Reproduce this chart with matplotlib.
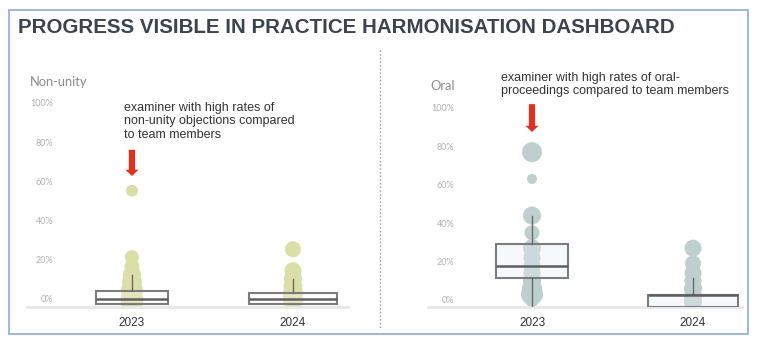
import matplotlib.pyplot as plt
from matplotlib.patches import Rectangle
from matplotlib.lines import Line2D

W, H = 757, 348

# categories
years = ['2023', '2024']

# Non-unity: individual examiners (values in %, dot diameter in px)
nu_2023_vals = [55, 21, 16, 12, 8, 4, 0, -2]
nu_2023_size = [12, 14, 15, 18, 20, 22, 22, 22]
nu_2024_vals = [25, 14, 10, 6, 2, -1]
nu_2024_size = [16, 17, 18, 19, 20, 20]
# Non-unity box stats (q1, median, q3, whisker low, whisker high)
nu_q1 = [-3, -3]
nu_med = [-0.5, -0.7]
nu_q3 = [3.6, 2.4]
nu_lo = [-3, -3]
nu_hi = [12, 10]

# Oral proceedings
or_2023_vals = [77, 63, 44, 35, 27, 22, 18, 14, 10, 6, 3, 0, -2]
or_2023_size = [20, 10, 18, 15, 18, 17, 17, 17, 18, 20, 22, 14, 8]
or_2024_vals = [27, 19, 14, 10, 6, 2, -1]
or_2024_size = [17, 16, 17, 17, 18, 18, 18]
or_q1 = [11.5, -3.5]
or_med = [17.5, 2.6]
or_q3 = [29, 2.6]
or_lo = [-3.6, -3.5]
or_hi = [44, 11.3]

yticks = [0, 20, 40, 60, 80, 100]


def px(x, y):
    # pixel position -> figure fraction
    return x / W, 1 - y / H


def make_ax(x0, x1, ytop, ybot):
    l, b = px(x0, ybot)
    return fig.add_axes([l, b, (x1 - x0) / W, (ybot - ytop) / H])


def draw_panel(ax, vals, sizes, q1, med, q3, lo, hi, dot_col, box_col, widths):
    for i in range(2):
        ax.scatter([i] * len(vals[i]), vals[i], s=[(d * 0.72) ** 2 for d in sizes[i]],
                   color=dot_col, linewidths=0, zorder=2)
    stats = [dict(q1=q1[i], med=med[i], q3=q3[i], whislo=lo[i], whishi=hi[i], fliers=[])
             for i in range(2)]
    ax.bxp(stats, positions=[0, 1], widths=widths, showcaps=False, showfliers=False,
           patch_artist=True, manage_ticks=False, zorder=3,
           boxprops=dict(facecolor=box_col, edgecolor='#7c7c7c', linewidth=1.5),
           medianprops=dict(color='#5f5f5f', linewidth=1.8),
           whiskerprops=dict(color='#6a6a6a', linewidth=1))
    ax.set_xticks([0, 1])
    ax.set_xticklabels(years, fontsize=8.5, color='#333333', family='Liberation Sans')
    ax.set_yticks(yticks)
    ax.set_yticklabels([f'{t}%' for t in yticks], fontsize=6.5, color='#b0b0b0', family='Lato')
    ax.tick_params(axis='x', length=0, pad=7)
    ax.tick_params(axis='y', length=0, pad=-19)
    for s in ['top', 'right', 'left']:
        ax.spines[s].set_visible(False)
    ax.spines['bottom'].set_color('#e8e8e8')
    ax.spines['bottom'].set_linewidth(2)
    ax.set_facecolor('none')


fig = plt.figure(figsize=(W / 100, H / 100), dpi=100)

# outer frame and separator
l, b = px(9, 334)
fig.add_artist(Rectangle((l, b), (748 - 9) / W, (334 - 10) / H, transform=fig.transFigure,
                         fill=False, edgecolor='#8eaadb', linewidth=1.2))
fig.add_artist(Line2D([380 / W, 380 / W], [1 - 50 / H, 1 - 330 / H], transform=fig.transFigure,
                      color='#9a9a9a', linestyle=':', linewidth=1))

fig.text(*px(18, 33), 'PROGRESS VISIBLE IN PRACTICE HARMONISATION DASHBOARD',
         fontsize=14.75, fontweight='bold', color='#3b4350', family='Liberation Sans',
         va='baseline')

# left panel: non-unity
ax1 = make_ax(27, 348, 95, 307)
draw_panel(ax1, [nu_2023_vals, nu_2024_vals], [nu_2023_size, nu_2024_size],
           nu_q1, nu_med, nu_q3, nu_lo, nu_hi, '#dcdea8', (0.98, 0.98, 0.98, 0.3), [0.45, 0.55])
ax1.set_xlim(-0.652, 1.342)
ax1.set_ylim(-4.6, 104.1)
fig.text(*px(30, 82), 'Non-unity', fontsize=9.3, color='#8c8c8c', family='Lato', va='center')
fig.text(*px(124, 102), 'examiner with high rates of\nnon-unity objections compared\nto team members',
         fontsize=9, color='#333333', family='Liberation Sans', va='top', linespacing=1.15)
ax1.annotate('', xy=(0, 62.6), xytext=(0, 76),
             arrowprops=dict(arrowstyle='simple,head_length=4.5,head_width=9.5,tail_width=4.5',
                             mutation_scale=1, color='#e0301e', lw=0, shrinkA=0, shrinkB=0))

# right panel: oral proceedings
ax2 = make_ax(428, 742, 98, 307)
draw_panel(ax2, [or_2023_vals, or_2024_vals], [or_2023_size, or_2024_size],
           or_q1, or_med, or_q3, or_lo, or_hi, '#bfcfcf', (0.91, 0.935, 0.97, 0.35), [0.45, 0.56])
ax2.set_xlim((428 - 532) / 161, (742 - 532) / 161)
ax2.set_ylim(-3.65, 105.2)
fig.text(*px(430, 86), 'Oral', fontsize=9.3, color='#8c8c8c', family='Lato', va='center')
fig.text(*px(501, 72), 'examiner with high rates of oral-\nproceedings compared to team members',
         fontsize=9, color='#333333', family='Liberation Sans', va='top', linespacing=1.15)
ax2.annotate('', xy=(0, 87.5), xytext=(0, 102),
             arrowprops=dict(arrowstyle='simple,head_length=4.5,head_width=9.5,tail_width=4.5',
                             mutation_scale=1, color='#e0301e', lw=0, shrinkA=0, shrinkB=0))

fig.savefig('out.png', dpi=100)
